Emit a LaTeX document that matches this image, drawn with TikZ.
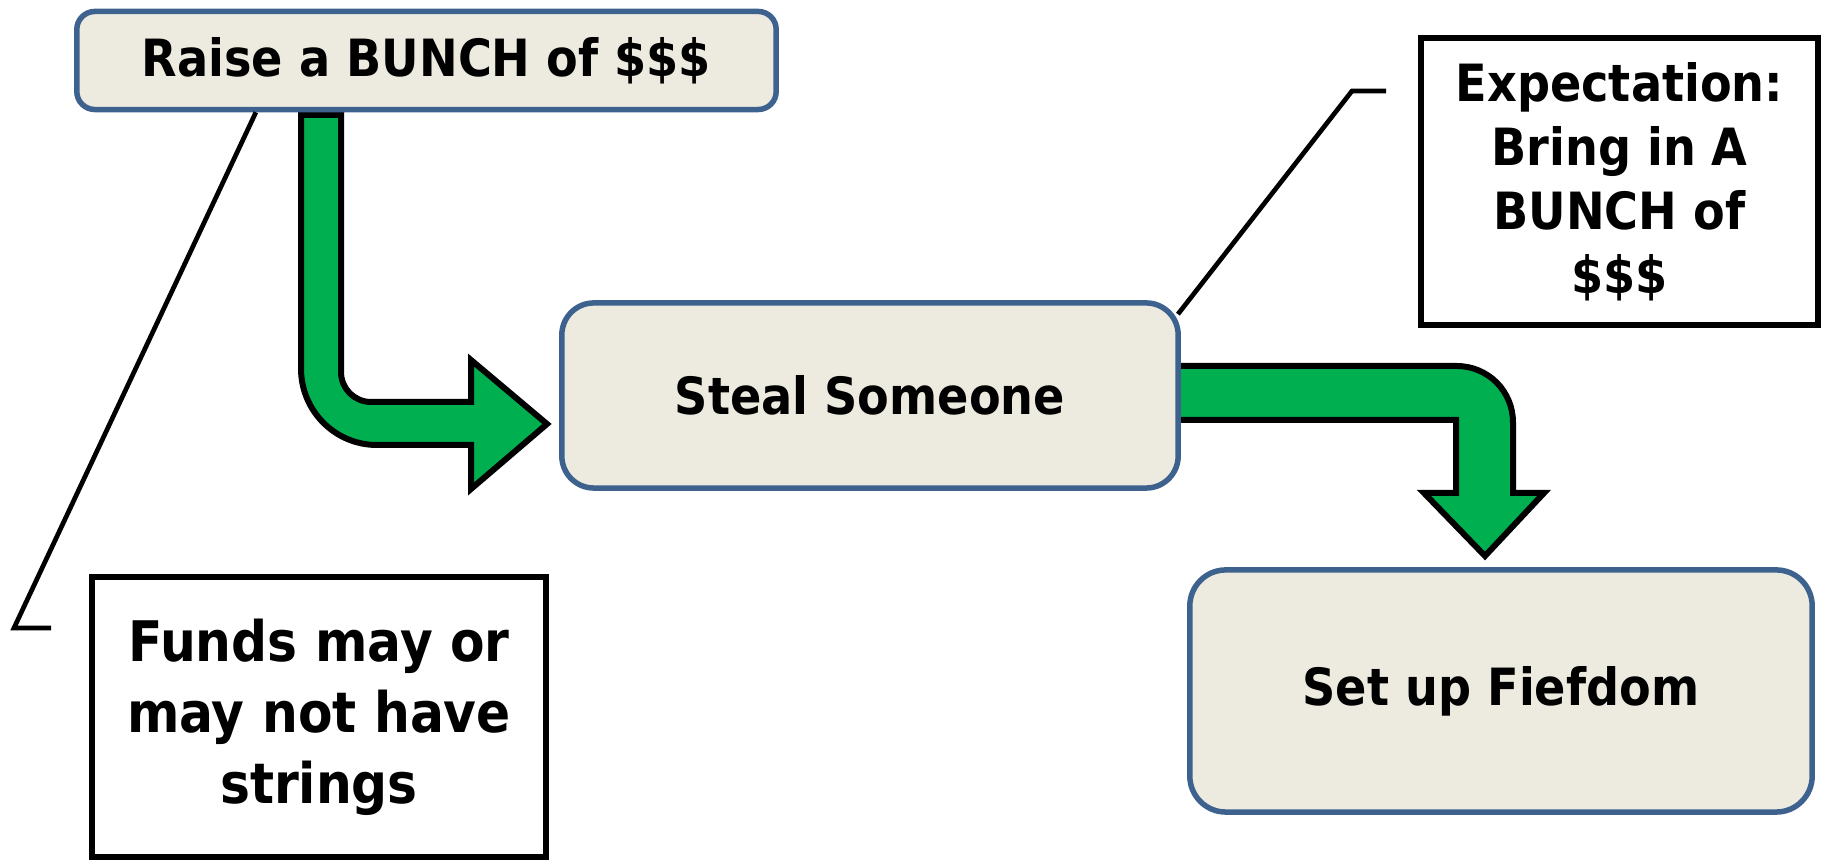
\documentclass[tikz,border=0pt]{standalone}
\usepackage{fontspec}
\setmainfont{DejaVu Sans}[FakeStretch=0.9]
\usetikzlibrary{backgrounds}
\definecolor{boxfill}{RGB}{237,235,224}
\definecolor{boxline}{RGB}{62,98,142}
\definecolor{arrowgreen}{RGB}{0,176,80}
\begin{document}
\begin{tikzpicture}[x=0.01cm,y=-0.01cm,
    stepbox/.style={draw=boxline,fill=boxfill,line width=0.055cm,
      font=\bfseries\fontsize{14.6pt}{18pt}\selectfont},
    notebox/.style={draw=black,fill=white,line width=0.06cm,align=center},
    bigarrow/.style={draw=black,fill=arrowgreen,line width=0.06cm},
    callout/.style={draw=black,line width=0.047cm}]
  \useasboundingbox (0,0) rectangle (1823,862);
  % steps
  \node[stepbox,minimum width=6.99cm,minimum height=0.98cm,rounded corners=0.18cm]
    (raise) at (426.5,60.5) {Raise a BUNCH of \$\$\$};
  \node[stepbox,minimum width=6.16cm,minimum height=1.85cm,rounded corners=0.32cm]
    (steal) at (870,395.5) {Steal Someone};
  \node[stepbox,minimum width=6.22cm,minimum height=2.42cm,rounded corners=0.36cm]
    (fiefdom) at (1501,691) {Set up Fiefdom};
  % notes
  \node[notebox,minimum width=3.96cm,minimum height=2.86cm,
    font=\bfseries\fontsize{14.6pt}{18.2pt}\selectfont]
    (expect) at (1619.5,181.5) {Expectation:\\Bring in A\\BUNCH of\\\$\$\$};
  \node[notebox,minimum width=4.53cm,minimum height=2.79cm,
    font=\bfseries\fontsize{15.9pt}{20.2pt}\selectfont]
    (funds) at (319,717) {Funds may or\\may not have\\strings};
  \coordinate (fundsbend) at (14,628);
  \coordinate (fundsend) at (51,628);
  \coordinate (expbend) at (1352,91);
  \coordinate (expend) at (1386,91);
  \draw[callout] ([xshift=-1.705cm]raise.south) -- (fundsbend) -- (fundsend);
  \draw[callout] ([xshift=-0.03cm,yshift=-0.14cm]steal.north east) -- (expbend) -- (expend);
  % block arrows
  \begin{scope}[on background layer]
    \draw[bigarrow] (301,115) -- (341,115) -- (341,372)
      .. controls (341,388.6) and (354.4,402) .. (371,402)
      -- (471,402) -- (471,360) -- (547,424) -- (471,489) -- (471,445)
      -- (377,445) .. controls (334.8,445) and (301,410.7) .. (301,368.5) -- cycle;
    \draw[bigarrow] (1175,366) -- (1456.5,366)
      .. controls (1488,366) and (1513,391) .. (1513,422.5)
      -- (1513,493) -- (1544,493) -- (1485,556) -- (1424,493) -- (1456,493)
      -- (1456,420) -- (1175,420) -- cycle;
  \end{scope}
\end{tikzpicture}
\end{document}
